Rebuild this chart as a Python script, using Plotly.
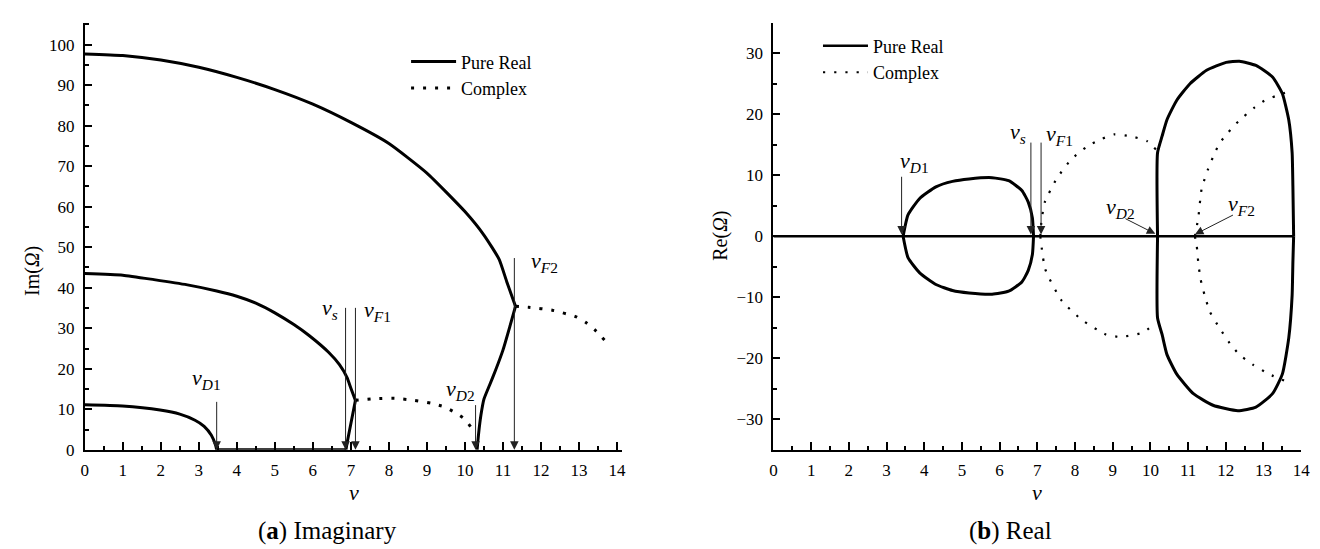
import plotly.graph_objects as go

# ---------------- Panel (a): Imaginary part ----------------
im_top_v = [0, 1, 2, 3, 4, 5, 6, 7, 8, 9, 10, 10.5, 10.9, 11.1, 11.33]
im_top = [97.7, 97.3, 96.2, 94.4, 91.9, 88.9, 85.3, 80.8, 75.6, 68.3, 58.8, 53.0, 47.0, 41.5, 35.4]

im_mid_v = [0, 1, 1.82, 2.7, 3.47, 4.0, 4.5, 5.0, 5.5, 5.9, 6.42, 6.7, 6.9, 7.0, 7.12]
im_mid = [43.5, 43.1, 42.0, 40.7, 39.2, 37.9, 36.2, 33.8, 30.9, 28.2, 24.0, 21.0, 17.8, 15.2, 12.2]

im_s_v = [7.12, 7.0, 6.9, 6.87]
im_s = [12.2, 6.5, 1.7, 0]

im_bot_v = [0, 0.99, 1.98, 2.5, 2.9, 3.14, 3.33, 3.44, 3.47]
im_bot = [11.1, 10.8, 9.8, 8.8, 7.3, 5.8, 3.6, 1.2, 0]

im_zero_v = [3.47, 6.87]
im_zero = [0, 0]

im_r_v = [10.32, 10.36, 10.42, 10.5, 10.65, 10.8, 11.0, 11.19, 11.33]
im_r = [0, 4.0, 8.5, 12.5, 16.0, 19.5, 24.6, 30.7, 35.4]

im_c1_v = [7.12, 7.63, 8.15, 8.68, 9.11, 9.46, 9.72, 9.98, 10.15, 10.22]
im_c1 = [12.2, 12.6, 12.7, 12.2, 11.5, 10.6, 9.3, 7.7, 5.7, 4.6]

im_c2_v = [11.33, 11.67, 12.32, 12.93, 13.2, 13.45, 13.67]
im_c2 = [35.4, 35.2, 34.4, 32.8, 31.3, 29.3, 27.1]

# arrows (tip at Im=0), labels
a_lab = ["<i>v</i><sub><i>D</i>1</sub>", "<i>v</i><sub><i>s</i></sub>", "<i>v</i><sub><i>F</i>1</sub>",
         "<i>v</i><sub><i>D</i>2</sub>", "<i>v</i><sub><i>F</i>2</sub>"]
a_arr_x = [3.47, 6.86, 7.12, 10.28, 11.3]
a_arr_tail = [12.2, 35.4, 35.4, 11.4, 47.7]
a_lab_x = [3.2, 6.45, 7.7, 9.88, 12.1]
a_lab_y = [17.5, 34.8, 34.3, 14.8, 46.3]

# ---------------- Panel (b): Real part ----------------
re_l1_v = [3.44, 3.57, 3.88, 4.31, 4.75, 5.19, 5.8, 6.24, 6.59, 6.76, 6.87, 6.9]
re_l1_up = [0, 3.5, 6.2, 8.1, 9.0, 9.4, 9.6, 9.1, 7.5, 5.6, 3.0, 0]
re_l1_lo = [0, -3.5, -6.0, -7.9, -8.9, -9.3, -9.5, -9.0, -7.5, -5.6, -3.0, 0]

re_zero_v = [0, 13.8]
re_zero = [0, 0]

re_c1_up_v = [7.08, 7.11, 7.2, 7.51, 7.9, 8.34, 8.69, 9.04, 9.47, 9.91, 10.18]
re_c1_up = [0, 2.5, 5.6, 9.4, 12.6, 14.8, 15.9, 16.7, 16.4, 15.6, 14.0]
re_c1_lo_v = [7.08, 7.21, 7.64, 8.18, 8.82, 9.2, 9.79, 10.16]
re_c1_lo = [0, -5.4, -10.5, -13.7, -16.1, -16.5, -15.8, -14.2]

re_bl_up_v = [10.19, 10.19, 10.31, 10.44, 10.7, 11.05, 11.49, 12.01, 12.36, 12.8, 13.24, 13.5, 13.67, 13.76, 13.78, 13.8]
re_bl_up = [0, 13.7, 16.4, 19.1, 22.3, 25.0, 27.2, 28.5, 28.7, 28.0, 26.1, 23.4, 19.1, 13.7, 8.3, 0]
re_bl_lo_v = [10.19, 10.19, 10.31, 10.44, 10.7, 11.14, 11.66, 12.32, 12.8, 13.24, 13.5, 13.67, 13.76, 13.78, 13.8]
re_bl_lo = [0, -13.4, -16.1, -19.4, -22.6, -25.8, -27.7, -28.6, -28.0, -25.8, -22.6, -16.7, -9.7, -4.3, 0]

re_c2_up_v = [11.18, 11.27, 11.36, 11.53, 11.71, 11.84, 12.06, 12.28, 12.49, 12.76, 13.02, 13.33, 13.65]
re_c2_up = [0, 3.0, 7.8, 11.0, 13.7, 15.3, 17.0, 18.5, 19.7, 21.1, 22.2, 23.0, 23.7]
re_c2_lo_v = [11.18, 11.23, 11.27, 11.33, 11.44, 11.58, 11.84, 12.1, 12.36, 12.71, 13.15, 13.76]
re_c2_lo = [0, -1.6, -4.3, -7.0, -9.7, -12.4, -15.1, -17.5, -19.4, -21.0, -22.6, -24.2]

b_lab = a_lab
b_tip_x = [3.4, 6.83, 7.1, 10.13, 11.18]
b_tip_y = [0.3, 0.3, 0.3, 0.4, 0.3]
b_tail_x = [3.4, 6.83, 7.1, 9.3, 12.23]
b_tail_y = [10.0, 15.6, 15.6, 3.0, 3.6]
b_lab_x = [3.75, 6.5, 7.6, 9.2, 12.42]
b_lab_y = [12.2, 16.9, 16.6, 4.7, 5.2]

FONT = "Liberation Serif, Times New Roman, serif"
W, H = 1320, 549

fig = go.Figure()

SOLID_W = 3
DOT = "3px,9px"


def solid(x, y, xa, ya, show=False, leg="legend", w=SOLID_W):
    fig.add_trace(go.Scatter(x=x, y=y, mode="lines", xaxis=xa, yaxis=ya,
                             line=dict(color="black", width=w, shape="spline", smoothing=0.5),
                             name="Pure Real", showlegend=show, legend=leg, hoverinfo="skip"))


def dotted(x, y, xa, ya, show=False, leg="legend", w=3, dash=DOT):
    fig.add_trace(go.Scatter(x=x, y=y, mode="lines", xaxis=xa, yaxis=ya,
                             line=dict(color="black", width=w, dash=dash, shape="spline", smoothing=0.5),
                             name="Complex", showlegend=show, legend=leg, hoverinfo="skip"))


# panel a
solid(im_top_v, im_top, "x", "y", show=True, leg="legend")
dotted(im_c1_v, im_c1, "x", "y", show=True, leg="legend")
solid(im_mid_v, im_mid, "x", "y")
solid(im_s_v, im_s, "x", "y")
solid(im_bot_v, im_bot, "x", "y")
solid(im_zero_v, im_zero, "x", "y")
solid(im_r_v, im_r, "x", "y")
dotted(im_c2_v, im_c2, "x", "y")

# panel b
RDOT = "2.2px,9px"
solid(re_zero_v, re_zero, "x2", "y2", show=True, leg="legend2", w=2.5)
dotted(re_c1_up_v, re_c1_up, "x2", "y2", show=True, leg="legend2", w=2.2, dash=RDOT)
solid(re_l1_v, re_l1_up, "x2", "y2")
solid(re_l1_v, re_l1_lo, "x2", "y2")
dotted(re_c1_lo_v, re_c1_lo, "x2", "y2", w=2.2, dash=RDOT)
solid(re_bl_up_v, re_bl_up, "x2", "y2")
solid(re_bl_lo_v, re_bl_lo, "x2", "y2")
dotted(re_c2_up_v, re_c2_up, "x2", "y2", w=2.2, dash=RDOT)
dotted(re_c2_lo_v, re_c2_lo, "x2", "y2", w=2.2, dash=RDOT)

LABF = dict(family=FONT, size=22, color="black")
ann = []
for lab, x, yt, lx, ly in zip(a_lab, a_arr_x, a_arr_tail, a_lab_x, a_lab_y):
    ann.append(dict(x=x, y=0, ax=x, ay=yt, xref="x", yref="y", axref="x", ayref="y",
                    showarrow=True, arrowhead=2, arrowsize=1.7, arrowwidth=1, arrowcolor="#222",
                    standoff=0, text=""))
    ann.append(dict(x=lx, y=ly, xref="x", yref="y", text=lab, showarrow=False,
                    xanchor="center", yanchor="middle", font=LABF))
for lab, tx, ty, sx, sy, lx, ly in zip(b_lab, b_tip_x, b_tip_y, b_tail_x, b_tail_y, b_lab_x, b_lab_y):
    ann.append(dict(x=tx, y=ty, ax=sx, ay=sy, xref="x2", yref="y2", axref="x2", ayref="y2",
                    showarrow=True, arrowhead=2, arrowsize=1.7, arrowwidth=1, arrowcolor="#222",
                    standoff=0, text=""))
    ann.append(dict(x=lx, y=ly, xref="x2", yref="y2", text=lab, showarrow=False,
                    xanchor="center", yanchor="middle", font=LABF))


def ptext(px, py, text, size, angle=0):
    return dict(x=px / W, y=1 - py / H, xref="paper", yref="paper", text=text, textangle=angle,
                xanchor="center", yanchor="middle", showarrow=False,
                font=dict(family=FONT, size=size, color="black"))


ann += [
    ptext(20, 268, "Im(<i>Ω</i>)", 20, -90),
    ptext(716, 232, "Re(<i>Ω</i>)", 20, -90),
    ptext(345, 493, "<i>v</i>", 22),
    ptext(1035, 493, "<i>v</i>", 22),
    ptext(319, 533, "(<b>a</b>) Imaginary", 25),
    ptext(1008, 533, "(<b>b</b>) Real", 25),
]

ydom = [1 - 450 / H, 1 - 15 / H]
common_x = dict(showline=True, linewidth=2, linecolor="black", ticks="inside", ticklen=8,
                tickwidth=1.5, tickcolor="black", dtick=1, tick0=0, showgrid=False, zeroline=False,
                minor=dict(dtick=0.5, ticks="inside", ticklen=4, tickwidth=1.5, tickcolor="black", showgrid=False),
                tickfont=dict(family=FONT, size=17, color="black"), ticklabelstandoff=4, fixedrange=True)
common_y = dict(showline=True, linewidth=2, linecolor="black", ticks="inside", ticklen=7,
                tickwidth=1.5, tickcolor="black", dtick=10, tick0=0, showgrid=False, zeroline=False,
                minor=dict(dtick=5, ticks="inside", ticklen=4, tickwidth=1.5, tickcolor="black", showgrid=False),
                tickfont=dict(family=FONT, size=17, color="black"), ticklabelstandoff=5, fixedrange=True)

fig.update_layout(
    width=W, height=H, margin=dict(l=0, r=0, t=0, b=0),
    paper_bgcolor="white", plot_bgcolor="white",
    xaxis=dict(domain=[73.5 / W, 616 / W], range=[0, 14.13], anchor="y", **common_x),
    yaxis=dict(domain=ydom, range=[0, 105.4], anchor="x", **common_y),
    xaxis2=dict(domain=[769 / W, 1302 / W], range=[0, 14.0], anchor="y2", **common_x),
    yaxis2=dict(domain=ydom, range=[-35, 35], anchor="x2", **common_y),
    legend=dict(x=398 / W, y=1 - 36 / H, xanchor="left", yanchor="top", bgcolor="rgba(0,0,0,0)",
                font=dict(family=FONT, size=18, color="black"), tracegroupgap=0, itemwidth=45),
    legend2=dict(x=814 / W, y=1 - 20 / H, xanchor="left", yanchor="top", bgcolor="rgba(0,0,0,0)",
                 font=dict(family=FONT, size=18, color="black"), tracegroupgap=0, itemwidth=45),
    annotations=ann,
    showlegend=True,
)

fig.write_html("out.html")
